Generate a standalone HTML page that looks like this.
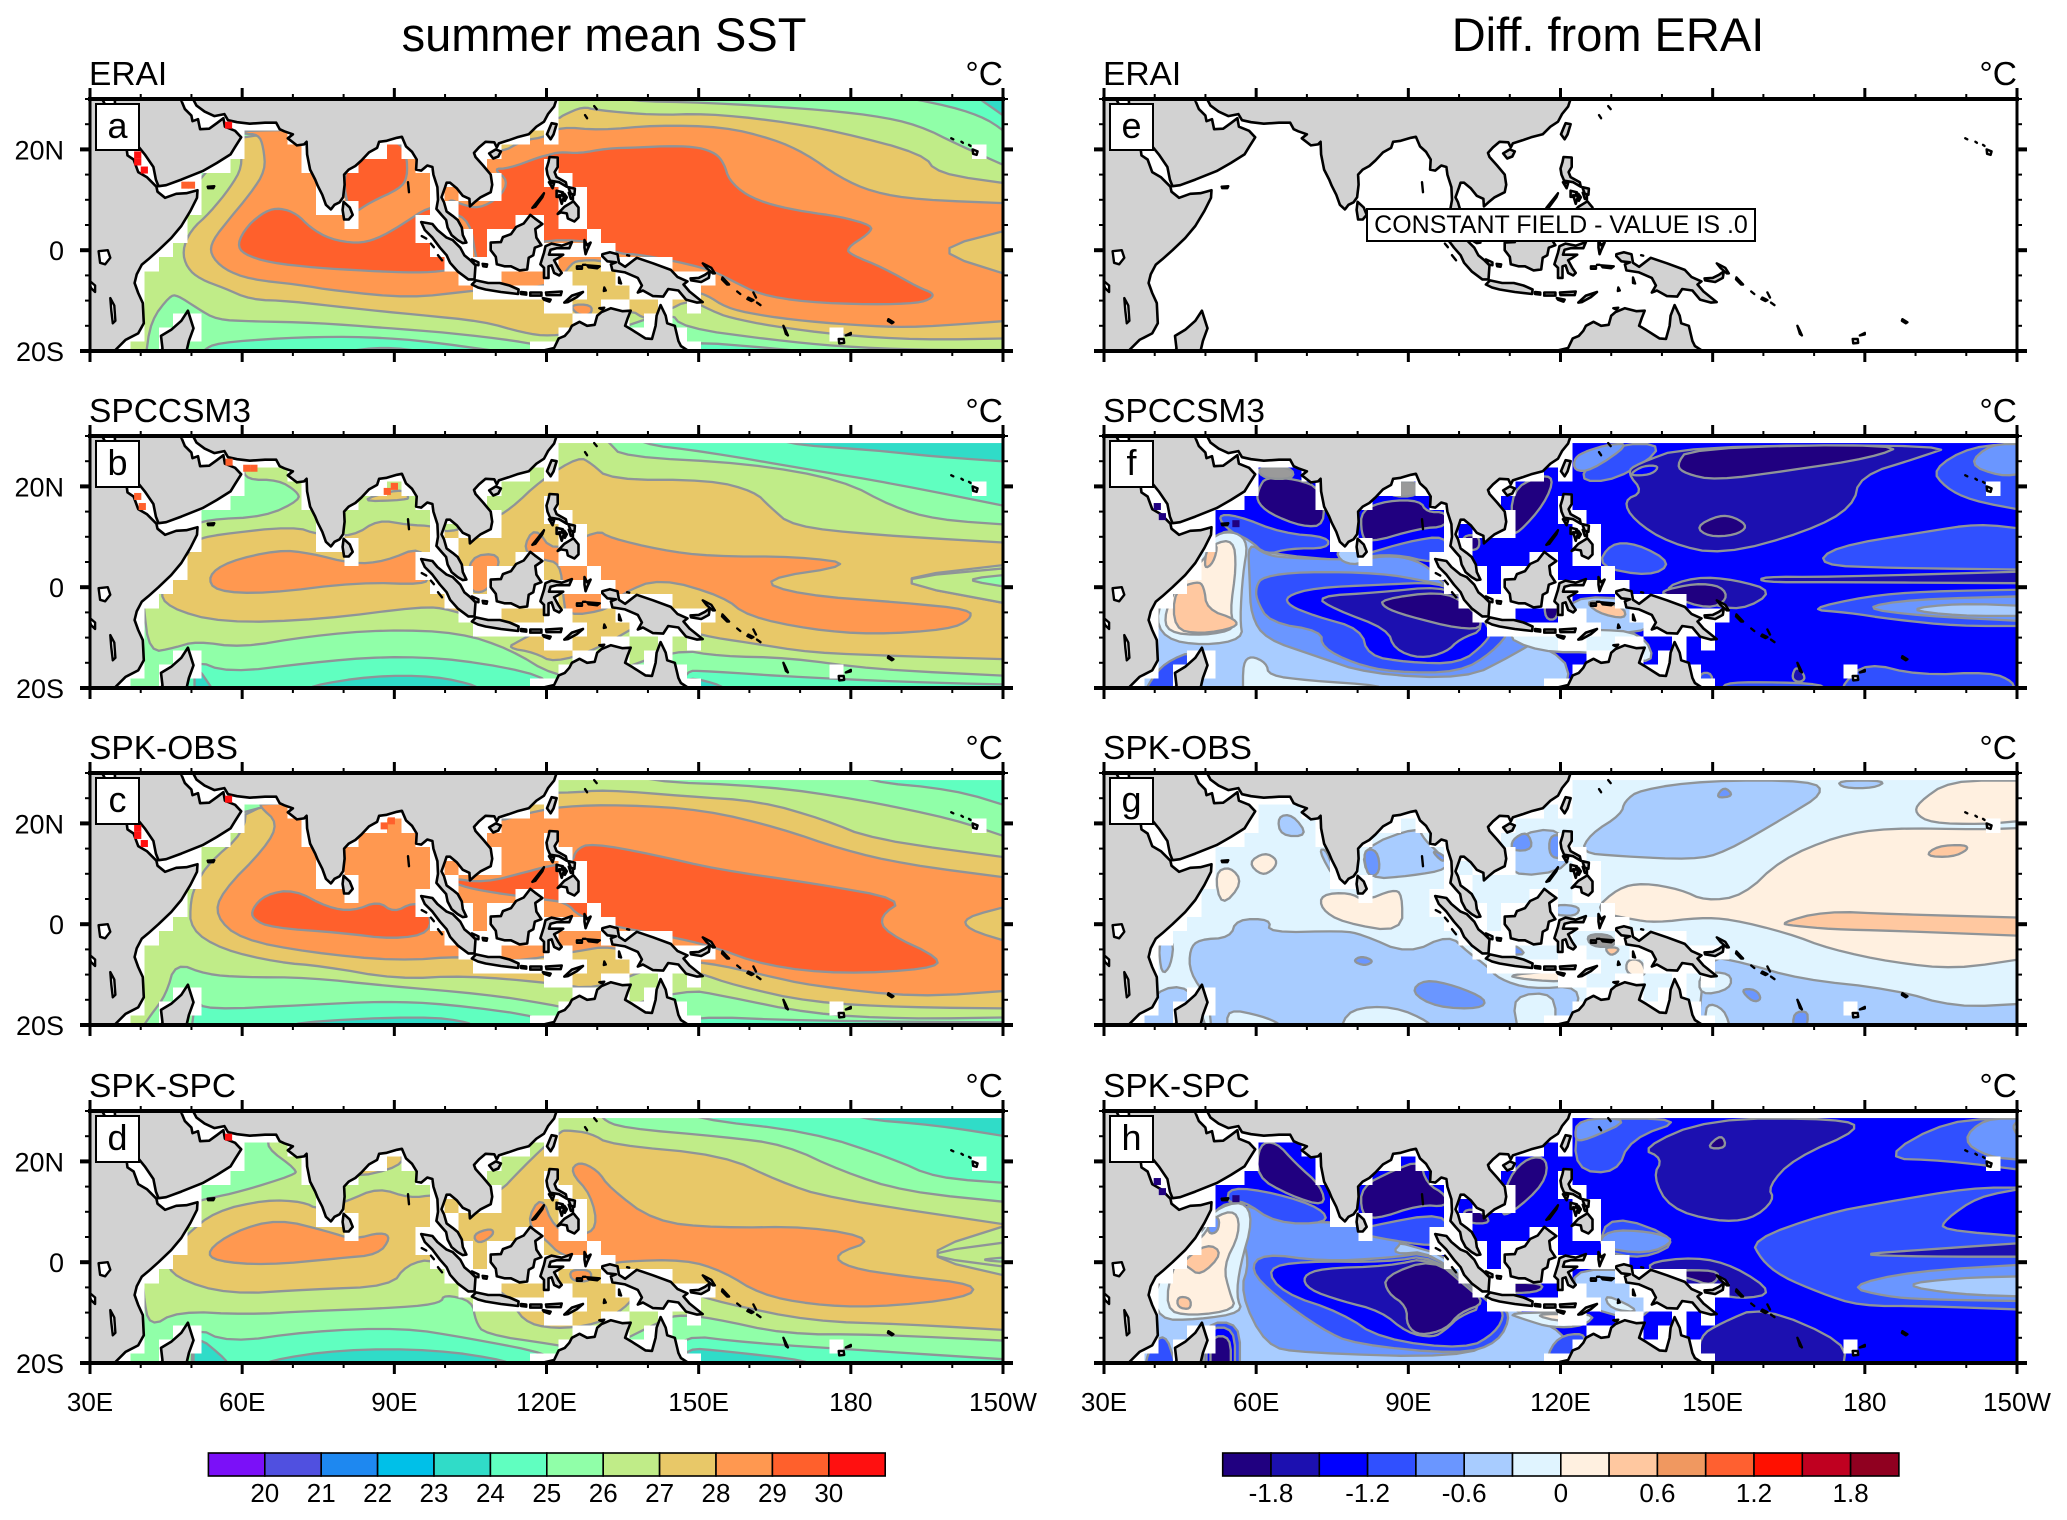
<!DOCTYPE html>
<html lang="en">
<head>
<meta charset="utf-8">
<title>Summer mean SST and difference from ERAI</title>
<style>
html,body{margin:0;padding:0;background:#fff;}
svg{display:block;}
text{font-family:"Liberation Sans",sans-serif;fill:#000;}
</style>
</head>
<body>
<svg id="chart" xmlns="http://www.w3.org/2000/svg" width="2067" height="1520" viewBox="0 0 2067 1520">
<rect x="0" y="0" width="2067" height="1520" fill="#fff"/>
<text x="604" y="51" font-size="47" text-anchor="middle">summer mean SST</text>
<text x="1608" y="51" font-size="47" text-anchor="middle">Diff. from ERAI</text>
</svg>
<script>
// ---------- legend data ----------
const sstLevels = [20,21,22,23,24,25,26,27,28,29,30];
const sstColors = ['#7b10f8','#5050e0','#1e88f0','#00c0e8','#30dcc8','#60ffc0','#90ffa8','#c0ec88','#e8c868','#ff9850','#ff602c','#ff1010'];
const sstLabels = ['20','21','22','23','24','25','26','27','28','29','30'];
const diffLevels = [-1.8,-1.5,-1.2,-0.9,-0.6,-0.3,0,0.3,0.6,0.9,1.2,1.5,1.8];
const diffColors = ['#200080','#1c10b0','#0000ff','#3050ff','#6a96ff','#a8ccff','#e0f4ff','#fff0e0','#ffc8a0','#f09860','#ff6030','#ff1000','#c00020','#900020'];
const diffLabels = ['-1.8','','-1.2','','-0.6','','0','','0.6','','1.2','','1.8'];

// ---------- axis data ----------
const lonMajor = [30,60,90,120,150,180,210];
const lonLabels = ['30E','60E','90E','120E','150E','180','150W'];
const latMajor = [20,0,-20];
const latLabels = ['20N','0','20S'];

// ---------- coastline data (lon, lat pairs) ----------
const coastAfrica = [29,31, 32.3,31, 32.5,29.8, 33.5,27.8, 34.8,25.5, 35.6,23.9, 37.1,21, 37.4,18.8, 38.6,18, 39.5,15.5, 41.2,14.5, 43.1,12.6, 43.3,11.6, 44.8,10.4, 47,11.2, 49,11.3, 51.2,11.9, 51.1,10.4, 49.8,7.8, 48,4.8, 46,2.4, 43.5,0, 41.5,-1.8, 40.2,-2.9, 39.2,-4.8, 38.8,-6.5, 39.5,-8.5, 40.4,-10.5, 40.6,-14.5, 39.5,-16.5, 37,-17.8, 35,-19.8, 34.8,-21, 29,-21];
const coastAsia = [34.9,31, 34.9,29.5, 35,28, 37,25, 38.8,22, 39.2,21, 40.8,19, 42.5,16.5, 43,14, 43.5,12.7, 45,12.9, 48,14, 52.2,15.7, 55,17.3, 57.7,19, 58.6,20.5, 59.8,22.4, 58.6,23.7, 56.6,24.5, 56.3,26.2, 55,25.2, 53.5,24.1, 51.7,24, 51.3,26, 50.2,25.6, 50,26.7, 48.7,28, 48,29.7, 49,30.4, 50.3,30, 51,28.7, 52.6,27.5, 54.5,26.6, 56.5,27, 57.2,25.8, 59,25.4, 61.5,25.1, 64.5,25.3, 66.7,25.3, 67.4,24, 68.3,23.6, 70,23, 69,22.2, 70.8,20.8, 72.2,21, 72.7,21.5, 72.8,19, 73.4,16, 74.4,14, 74.9,12.8, 75.8,11, 76.5,9, 77.5,8.1, 78.2,9, 79.2,9.5, 79.9,10.5, 80.2,13, 80.1,15, 81,16, 82.3,16.7, 83.5,17.8, 85,19.4, 86.6,20.3, 87,21.5, 88.5,21.7, 90.5,22.3, 91.5,22.5, 92.3,20.6, 93.5,19.5, 94.4,18, 94.3,16, 95.3,15.8, 96.5,16.8, 97.5,16.5, 97.7,15, 98.5,12.5, 98.6,10, 98.3,8.2, 99.3,7, 100.2,6, 100.5,4.5, 101.3,3, 102.5,2, 103.5,1.4, 104.2,1.5, 103.5,3, 103.3,4.5, 102.5,6, 101.5,6.8, 100.3,7.7, 99.8,9.5, 99.3,10.5, 100,12.5, 100.3,13.4, 101,13.4, 102.3,12.3, 103.5,10.8, 104.8,10.2, 104.9,8.7, 105.8,9.5, 107,10.5, 109,11.5, 109.3,13, 109,15, 107.5,16.8, 106,18.5, 105.7,19.3, 106.7,20.4, 108,21.5, 109.7,21.4, 110.2,20.4, 110.6,21.2, 112.5,21.8, 114.2,22.4, 116.5,23, 118,24.5, 119.5,25.5, 120.3,27, 121.5,28.5, 122,30, 122.5,31];
const coastAustralia = [118,-21, 119,-20, 121.5,-19.4, 122.4,-17.5, 123.6,-17, 124.5,-16, 125,-15, 126.5,-14.2, 128,-15, 129.5,-14.8, 130,-13, 130.8,-12.3, 132.7,-11.5, 135,-12.1, 136.6,-12, 136,-13.5, 135.5,-15, 137,-15.9, 139.5,-17.5, 140.8,-17.6, 141.5,-15, 141.7,-13, 142.5,-10.9, 143.5,-13, 143.8,-14.5, 145.3,-15, 146,-18, 146.5,-19, 148,-20, 149,-21];
const coastMadagascar = [49.3,-12, 50.4,-15.5, 49.5,-18, 48.8,-21, 43.5,-21, 44.3,-19.5, 44,-17, 46,-15.8, 48,-14];
const coastSriLanka = [80,9.6, 81.2,8.5, 81.8,7, 81,6.1, 80.1,6.1, 79.8,8];
const coastHainan = [108.7,19.2, 110,20, 111,19.6, 110.5,18.6, 109.5,18.2];
const coastTaiwan = [121,25.2, 122,25, 121.4,23, 120.8,22, 120.1,23, 120.7,24.5];
const coastLuzon = [120.6,18.5, 122.2,18.4, 122.2,16.5, 121.6,15.5, 122,14.5, 123.8,13.5, 124,12.6, 122.5,13.5, 120.7,13.8, 120.2,15, 120,16.2, 120.4,17.5];
const coastMindoro = [120.5,13.5, 121.5,13.3, 121.2,12.3];
const coastSamar = [124.3,12.5, 125.6,12.2, 125.5,11, 124.8,11.2];
const coastLeyte = [124.4,11.4, 125.2,11, 125.2,10.1, 124.8,10.2];
const coastPanay = [122,11.8, 123.2,11.5, 122.9,10.6, 122,10.6];
const coastNegros = [122.5,10.9, 123.5,10.8, 123,9.2];
const coastCebu = [123.5,11.2, 124,10.5, 123.6,9.8];
const coastMindanao = [122.2,7.2, 123.5,8.6, 125.3,9.7, 126.3,8.5, 126.3,6.5, 125.5,5.7, 124.2,6.3, 124,7.3, 122.8,7.5];
const coastBorneo = [109,1.5, 111,1.6, 111.4,2.6, 113,3.2, 114,4.6, 115.5,5.3, 116.8,7, 117.7,6.3, 119.2,5.2, 117.8,4.2, 118,2.5, 119,1, 117.7,0.5, 117.4,-1, 116.5,-1.5, 116.2,-3.8, 114.7,-4, 113,-3.2, 111.7,-3.2, 110.2,-2.8, 110,-1.3, 109,0];
const coastSumatra = [95.3,5.6, 97.5,5.2, 98.5,4, 100.3,2.5, 101.5,2, 103,0.5, 103.8,-1, 105,-2, 106,-3, 105.8,-5.8, 104.6,-5.8, 102.5,-4.2, 101,-2.5, 100.3,-1, 99,0.5, 97.5,2.5, 96,4];
const coastJava = [105.3,-6.8, 106.1,-6, 108.5,-6.5, 110.8,-6.5, 112.7,-7, 114.5,-7.8, 114.4,-8.7, 111,-8.3, 108,-7.8, 106.5,-7.4];
const coastBali = [115,-8.3, 116,-8.4, 116,-8.8, 115,-8.7];
const coastSumbawa = [116.8,-8.4, 119,-8.4, 119,-9, 116.8,-9];
const coastFlores = [119.9,-8.4, 123,-8.2, 122.8,-8.9, 120,-8.9];
const coastSumba = [119.3,-9.5, 120.8,-9.8, 120.6,-10.2, 119.5,-9.8];
const coastTimor = [123.5,-10.4, 125,-9, 127.2,-8.3, 126,-9.3, 124.2,-10.3];
const coastSulawesi = [119.8,0.8, 121,1.3, 123,0.9, 125,1.6, 124.5,0.4, 122,0.4, 120.8,0.1, 120.5,-0.9, 121.7,-0.9, 123.3,-0.9, 122.2,-1.6, 121.5,-2, 122.3,-3.5, 123,-4.5, 122.5,-5, 121.5,-4.5, 121,-3, 120.4,-3.2, 120.4,-5.5, 119.5,-5.5, 119.5,-3.5, 118.8,-2.8, 119.5,-0.5];
const coastHalmahera = [127.5,2, 128,1, 128.7,1.5, 128,0, 127.7,-0.8, 127.5,0.5];
const coastGuinea = [131,-0.8, 132.5,-0.4, 134,-0.8, 134.3,-2.5, 135.5,-3.3, 137.8,-1.5, 141,-2.6, 144.5,-3.9, 145.8,-5.3, 147.8,-6.2, 147,-6.8, 148.2,-8.2, 150.8,-10.3, 149.7,-10.4, 147.5,-9.8, 146,-8, 144,-7.7, 143,-9.2, 141,-9.1, 139,-8, 138,-8.4, 138.8,-7, 138,-5.5, 135.5,-4.4, 133,-4, 132.7,-2.8, 133.7,-2.4, 132,-2.2, 131,-1.2];
const coastNewBritain = [148.4,-5.6, 150,-5.5, 151.2,-4.9, 152.2,-4.2, 152,-5.5, 150.5,-6.3, 148.5,-6];
const masked = [coastAfrica,coastAsia,coastAustralia,coastMadagascar,coastSriLanka,coastHainan,coastTaiwan,coastLuzon,coastMindoro,coastSamar,coastLeyte,coastPanay,coastNegros,coastCebu,coastMindanao,coastBorneo,coastSumatra,coastJava,coastBali,coastSumbawa,coastFlores,coastSumba,coastTimor,coastSulawesi,coastHalmahera,coastGuinea,coastNewBritain];
const isles = [
 [117.2,8.4, 119.5,11.3, 119.2,10.5, 117.8,8.6],
 [150.8,-2.6, 152.5,-3.5, 153.2,-4.6, 152.8,-4.6, 151.5,-3.5],
 [154.7,-5.4, 156,-6.8, 155.6,-6.8, 154.6,-5.8],
 [157.6,-8.2, 158.2,-8.7],
 [159.8,-9.4, 160.8,-9.9, 160.4,-10.1, 159.6,-9.7],
 [161.5,-10.4, 162.2,-10.9],
 [160.8,-8.4, 161.3,-9.4],
 [166.7,-15, 167.2,-16, 167.6,-16.9, 167.2,-16.6],
 [177.6,-17.6, 178.6,-17.6, 178.7,-18.4, 177.7,-18.5],
 [179,-16.9, 180,-16.4, 180,-16.7],
 [187.4,-13.7, 188.4,-14.3, 188.1,-14.5, 187.3,-14],
 [199.8,22.2, 200.2,22],
 [201.8,21.5, 202.1,21.3],
 [203.3,20.9, 203.6,20.7],
 [204,20, 205,19.6, 204.8,18.9, 204.1,19.1],
 [129.4,28.6, 129.9,28],
 [127.6,26.8, 128,26.2],
 [53.2,12.6, 54.5,12.7, 54.3,12.3, 53.3,12.3],
 [92.7,13.5, 92.9,11.5],
 [95.4,2.8, 96.3,2.3],
 [97.2,1.3, 97.8,0.6],
 [98.6,-1, 99.4,-2],
 [105.3,-1.8, 106.6,-2.4, 106.6,-3, 105.8,-2.8],
 [107.4,-2.7, 108.3,-2.8, 108.2,-3.3, 107.5,-3.2],
 [126,-3.2, 127,-3.2, 127,-3.7, 126,-3.7],
 [128,-3, 130.5,-3.2, 130,-3.6, 128.3,-3.4],
 [134.3,-5.4, 134.7,-6.6, 134.3,-6.5],
 [131.4,-7.4, 131.7,-8, 131.3,-8.1],
 [130.4,-11.5, 131.4,-11.4, 131,-11.8],
 [135.9,-1, 136.3,-1.1],
 [127.2,-2.9, 127.7,-2.9]
];
const lakes = [
 [31.7,-0.2, 33.5,0, 34,-1.5, 33,-2.8, 32,-2.5],
 [34,-9.5, 34.8,-11, 35,-14, 34.5,-14.5, 34.2,-12],
 [29.8,-6, 31,-7, 31,-8.3, 30.2,-7.5]
];
const maskIslands = [178.2,-18, 204.4,19.6, 115.3,-8.4, 118.1,-8.4, 120.9,-8.4, 123.8,-8.4, 126,-8.4, 125,-11, 121,-11, 128,0, 128,2.8, 121,0, 123.8,0, 121,-2.8, 120.4,-5.6, 123,-5.6, 120.4,13, 123,11, 125.7,11, 123,8.4, 125.7,8.4, 125.7,5.6, 152,-5.6, 149,-5.6];

// ---------- contour fields: [band value, [lon,lat,...]] painted in order ----------
const fieldA = [
 [24.5,[52.4,-19.8, 55,-18.4, 68.2,-17.4, 81.3,-17.1, 94.4,-17.8, 110.1,-20, 110,-21, 52,-21]],
 [23.5,[81,-20, 88,-19.2, 95,-20, 95,-21, 81,-21]],
 [24.5,[147,-18, 165,-19.5, 170,-20, 170,-21, 147,-21]],
 [24.5,[187,31, 200,28.5, 207,26, 211,23, 211,31]],
 [23.5,[204,31, 209,27.5, 211,26, 211,31]],
 [26.5,[45.7,-9.1, 47.2,-8.9, 51.1,-11.5, 55,-13.8, 61.6,-14.1, 74.7,-14.4, 87.8,-15.4, 101,-16.4, 114.1,-18, 121.3,-19.4, 130,-17, 144.3,-12.1, 146.9,-15.4, 164.6,-17.8, 177.7,-19.1, 193.4,-19.8, 211,-19.8, 211,16.5, 201,21, 193.4,24.8, 184.3,26.8, 171.1,28.1, 151.5,29.3, 135.7,29.6, 135,31, 122,31, 100,28, 60,24, 50,12, 40,0, 36,-10, 34,-21, 41,-21, 42,-14]],
 [27.5,[59.6,21.2, 60,16.5, 57.7,12.5, 53.7,7.5, 49.8,3.9, 48.2,-0.1, 49.1,-3.5, 51.8,-5.8, 56.4,-7.5, 61.6,-9.8, 69.5,-10.1, 81.3,-11.5, 94.4,-12.8, 107.5,-14.1, 115.4,-16.4, 120.7,-17.1, 128,-16, 136,-11.5, 140,-14, 142.5,-12, 143.6,-12.1, 148.2,-9.8, 152.8,-12.1, 156.1,-13.4, 164.6,-15.1, 177.7,-16.8, 193.4,-17.8, 211,-17.5, 211,13.2, 197,15.2, 194.3,19.1, 177.7,23.5, 164.6,25.8, 151.5,27.1, 141,26.8, 129.8,27.8, 127.2,28.5, 123.3,26.8, 122.3,26, 100,24, 60,23]],
 [28.5,[59.6,23.8, 60,23.1, 63.2,23, 64.2,20.5, 64.6,15.8, 61.6,11.2, 57.7,6.5, 54.1,1.9, 53.7,-0.8, 56.4,-3.8, 61.6,-5.8, 70.8,-6.8, 78.7,-8.1, 93.1,-9.5, 104.9,-8.1, 112,-7.5, 122,-7, 124.9,-2.5, 127,-2, 131,-2, 140,-5, 148.2,-8.1, 151.5,-8.8, 155.4,-11.4, 161.4,-12.8, 171.1,-14.1, 184.3,-15.1, 193.4,-15.3, 211,-14, 211,-4.9, 195.6,0, 211,4, 211,9.3, 193.4,10, 184.3,11.5, 177.7,14.5, 171.1,19.2, 164.6,22.1, 154.8,24.5, 141.6,24.8, 130.5,23.8, 122.6,24.5, 120,22.5, 115.4,21.8, 110.8,19.2, 108,22, 90,24]],
 [28.5,[124.6,-10.8, 128.9,-10.8, 128.9,-12.8, 126,-12.8]],
 [29.5,[59,1.2, 61,4.85, 64.6,7.8, 67.5,8.4, 70.8,7.2, 73.4,4.5, 77.3,2.2, 82.6,1.3, 86.5,2.2, 91.1,4.8, 97,8.8, 100,8, 104,-3, 100.3,-4.1, 94.4,-4.5, 84.6,-4.1, 74.7,-3.5, 65.5,-2.5, 60.3,-0.8]],
 [29.5,[81.9,7.2, 85.2,9.5, 91.1,12.2, 92.6,14.5, 92.4,19.2, 90.5,21.8, 84.6,21, 79.9,15.8, 80.6,9.2]],
 [29.5,[109.5,16.2, 112.5,16.2, 118.7,18.5, 120,18.8, 122.6,19.5, 126.6,19.2, 131.8,20.2, 138.4,20.4, 144.9,20.7, 150.1,20.4, 153.4,19.2, 155,17.2, 156,13.9, 159.4,10.9, 164.6,8.9, 171.1,7.6, 177.7,6.7, 184.3,4.9, 183.6,3.3, 179,0.3, 180.3,-1, 186.2,-3.4, 193.4,-7.4, 196.2,-8.5, 196,-9.5, 193.4,-10.5, 184.3,-10.8, 171.1,-10.3, 162,-8.8, 156.7,-6.1, 151.5,-3.5, 138.4,-0.8, 134.4,-0.8, 128.9,1.9, 118,2, 112,-2, 109,-5, 107,-4.8, 106.1,-1.5, 104.9,5.8, 100.7,7.8, 100.7,10.2, 103,9.2, 106.6,8.2, 110.8,10.5, 112.5,13.8]]
];
const fieldB = [
 [24.5,[50.4,-14.3, 57.2,-17, 73.2,-15, 88.1,-13.7, 102.9,-14.3, 120.2,-17.6, 120,-21, 48,-21]],
 [24.5,[147.4,-16.6, 151,-16.6, 172,-18, 196.8,-19, 211,-19.3, 211,-21, 147,-21]],
 [24.5,[138.1,28.5, 151.1,26.9, 172.1,23.3, 188.1,20.6, 211,16, 211,31, 138,31]],
 [23.5,[165.9,28.5, 184.4,27.2, 196.8,25.9, 211,24.9, 211,31, 166,31]],
 [23.5,[73.2,-19.6, 85.5,-17.6, 98,-17.6, 106.6,-19.6, 106.6,-21, 73,-21]],
 [23.5,[50.6,-15, 54,-20, 54,-21, 50.6,-21]],
 [23.5,[147.4,-17.6, 155,-19.6, 155,-21, 147.4,-21]],
 [26.5,[132.5,28.5, 135,25.9, 159.7,24.6, 178.3,21.3, 188.1,16, 196.8,13.4, 211,12.4, 211,-17.6, 184.4,-16.3, 167.8,-14, 154.2,-13.7, 145.5,-12.3, 130,-18, 121.4,-17.6, 112.8,-12.3, 102.9,-9, 88.1,-8.4, 73.2,-9.7, 59.7,-12, 51,-10.7, 46.7,-12, 41.7,-13, 40.5,-3.1, 40,5, 50.4,12, 52.9,13.4, 64.6,14, 71.4,17.3, 70.8,19, 67.1,21.3, 60.9,21.3, 60,24, 70,25, 100,25, 115,27, 125,31, 130,31]],
 [27.5,[51,9.4, 54.7,10.4, 70.2,12.1, 75.1,10.4, 81.9,10.1, 86.8,13.4, 92.4,12.4, 98,12.1, 100.4,10.7, 109,13.4, 112.8,15.4, 119,21.3, 126.4,25.9, 128.8,24.6, 132.5,21.3, 152.3,21.3, 161,19, 164,16, 168.4,12.1, 184.4,10.4, 211,8.8, 211,4.5, 185.7,1.5, 211,-3.3, 211,-14.3, 190.6,-13.7, 172.1,-13, 159.7,-11, 151,-9.7, 140,-6.4, 130,-12.3, 121.4,-15, 117.7,-13, 112.2,-12, 114.6,-10.7, 117.7,-9, 110,-7.5, 101,-4.4, 95.5,-3.8, 75.7,-6.4, 56,-7.1, 45.4,-4.1, 43.6,-0.5, 47.9,4.8, 50.4,8.1]],
 [27.5,[82.5,17, 91.2,19.6, 92.9,18, 92.4,17.3]],
 [26.5,[185.7,1.5, 211,3.8, 211,-3.3]],
 [25.5,[201.8,1.5, 211,2.5, 211,0]],
 [28.5,[53.2,2.2, 57.2,5.1, 67.1,7.4, 73.2,6.8, 81.9,4.6, 88.1,5.1, 95.5,8.2, 96.7,2.2, 96,0.5, 83.1,1, 64.6,-1.3, 54.7,-0.8]],
 [28.5,[115.2,7.4, 117.7,12.1, 121.4,6.8, 130.1,11.4, 132.5,9.8, 142.4,7.4, 152.3,6.1, 169.6,6.1, 181.3,4.5, 161.6,1.5, 169.6,-1.5, 190.6,-3.1, 203.6,-4.4, 203.6,-6.4, 199.3,-8.4, 184.4,-9.4, 172.1,-8.4, 159.7,-5.8, 154.8,-1.8, 142.4,1.8, 135,-1.1, 132.5,-4.4, 123.9,-5.8, 123.3,-1.8, 122.7,4.8, 119,5.5]],
 [28.5,[104.7,6.1, 110.9,6.8, 110,2, 107.8,-1.1, 104.7,-0.8]]
];
const fieldC = [
 [24.5,[50.8,-15, 53,-17, 73,-16, 88,-15.3, 100,-15.8, 120.2,-18.5, 120,-21, 50,-21]],
 [24.5,[147.4,-18.2, 172,-19.2, 211,-19.5, 211,-21, 147,-21]],
 [24.5,[182.6,28.4, 200.4,26.7, 211,23.4, 211,31, 182,31]],
 [23.5,[69.5,-19.5, 95.5,-18.2, 105.4,-19.5, 105.4,-21, 69.5,-21]],
 [26.5,[138.7,28.4, 163.4,27.4, 181.9,24.7, 200.4,20.8, 211,17.2, 211,-18.5, 190.6,-18.8, 172.1,-17.8, 154.8,-14.2, 147.4,-12.9, 130,-18, 120.2,-15.8, 107.8,-13.9, 88.1,-12.2, 73.2,-10.6, 60,-10.5, 53,-10, 46.8,-7.6, 45,-14, 42,-18, 40,-21, 35,-21, 35,-10, 40,3, 50,14, 60,24, 100,27, 122,31, 138,31]],
 [27.5,[60.9,24, 60.3,18.1, 53.5,12.2, 51,8.2, 49.8,4.6, 49.8,-1, 55.9,-5, 67.1,-7.6, 75.7,-8.3, 90.5,-10.9, 104.1,-10.2, 120.2,-11.6, 130,-13, 142,-8, 149.8,-9.6, 157.3,-12.2, 172.1,-15.5, 190.6,-16.5, 211,-16.7, 211,13.2, 184.4,16.8, 174.6,20.8, 162.2,24.4, 147.4,25.4, 131.3,26.7, 124.5,26, 100,26]],
 [28.5,[63.4,23.4, 67.1,20.1, 64.6,15.2, 55.9,6.3, 54.7,1.6, 59.7,-3, 73.2,-5.6, 90.5,-7.3, 104.1,-6.3, 112.8,-7.6, 126.4,-5.3, 132.5,-4.3, 141.2,-6.9, 151.7,-7.6, 163.4,-10.2, 172.1,-12.2, 193.1,-14.5, 211,-13.2, 211,-3.5, 203,-1, 202.3,1.3, 211,3.6, 211,9.2, 190.6,11.9, 178.3,14.8, 165.9,19.1, 151.1,22.7, 135,23.7, 123.3,23.4, 116.5,22.1, 109,20, 90,24, 64,24]],
 [29.5,[61.9,3, 64.6,5.9, 70.2,6.9, 76.9,3.3, 81.9,2.6, 86.8,4.6, 89.9,2.3, 93.6,4.3, 96.7,3.3, 97.3,-1.7, 89.9,-3, 79.4,-1.7, 65.8,-0.7, 62.1,1]],
 [29.5,[125.8,14.8, 128.8,16.1, 141.2,13.8, 153.5,10.9, 172.1,8.2, 190.6,4.9, 185.7,1.6, 186.9,-1.7, 198,-6.9, 195.6,-8.9, 178.3,-9.9, 163.4,-8.3, 152.3,-4.3, 143.7,-2.3, 132.5,-0.3, 126.4,1.6, 123.9,4.3, 119,5, 109.1,6.3, 102.9,7.6, 100.4,9.2, 107.8,8.2, 116.5,10.5, 120.2,11.5, 125.1,12.2]]
];
const fieldD = [
 [24.5,[148.6,28.5, 172.1,25.9, 188.1,20.6, 196.8,16.7, 211,15.7, 211,31, 148,31]],
 [23.5,[180.7,28.5, 196.8,27.2, 211,24.9, 211,31, 180,31]],
 [24.5,[50.4,-12.7, 57.2,-16, 73.2,-13.7, 91.8,-13, 104.1,-15, 121.4,-18.3, 121,-21, 50,-21]],
 [24.5,[146.1,-14.3, 159.7,-16, 184.4,-17.6, 211,-19.3, 211,-21, 146,-21]],
 [23.5,[64.6,-19.6, 79.4,-17.3, 98,-17.3, 112.8,-19.6, 112.8,-21, 64.6,-21]],
 [23.5,[50.4,-14, 57.2,-19.6, 57.2,-21, 50.4,-21]],
 [23.5,[147.4,-17, 154.8,-17.6, 172.1,-19.6, 172,-21, 147.4,-21]],
 [26.5,[130.7,28.5, 135,26.6, 154.8,24.9, 167.1,23.3, 178.3,18, 190.6,14, 211,11.9, 211,-15.6, 184.4,-14.3, 167.1,-14.3, 152.3,-11, 145.5,-10.4, 142,-12, 130,-18, 121.4,-16.3, 107.8,-14.3, 106,-11.7, 105.4,-7.7, 99.8,-6.4, 99.2,-8.1, 91.8,-9, 73.2,-9.7, 60.9,-10.4, 47.3,-9.7, 41.7,-13, 40.5,-6.4, 40,5, 51,12, 53.5,12.7, 59.7,14, 70.2,17.3, 70.8,18.3, 64.6,22.9, 66,25, 100,27, 122,31, 130.7,31]],
 [27.5,[123.9,26.2, 128.8,25.6, 132.5,23.3, 154.8,21.3, 165.9,16, 175.8,12.7, 211,7.4, 192.5,1.5, 211,-2.8, 211,-13.5, 190.6,-12.3, 172.1,-11.7, 154.8,-8.1, 147.4,-5.8, 137.5,-6.4, 135.6,-9, 130.1,-12.3, 121.4,-13.3, 115.2,-11.7, 112.8,-6.4, 98,0.8, 92.4,-0.5, 89.3,-4.8, 73.2,-5.4, 57.2,-6.4, 46.7,-3.1, 44.8,0.8, 49.1,5.5, 54.7,10.1, 64.6,12.4, 72,12, 75.1,10.4, 80.7,12.1, 86.8,14.8, 93,12.7, 98,13.4, 105,13, 110.3,13.4, 115.2,18.7, 122.7,25.9]],
 [27.5,[81,16.5, 91.5,19, 91.5,22, 86.5,22]],
 [26.5,[192.5,1.5, 211,4, 211,-1]],
 [25.5,[205,0.5, 211,1, 211,0]],
 [28.5,[53,2.2, 58.4,6.1, 67.1,8.6, 76.9,6.1, 81.9,4.5, 87.5,6, 89.3,4.8, 86.8,1.5, 79.4,0.8, 64.6,-0.6, 54.7,0.2]],
 [28.5,[105.4,5.5, 109.1,6.8, 109.7,5.5, 106.6,3.5]],
 [28.5,[124.5,-1.5, 128.8,-1.5, 128.8,-3.8, 125,-3.8]],
 [28.5,[124.6,18, 126.4,20, 130,18.3, 132.5,14.7, 141.2,8.1, 153.5,6.8, 172.1,7.1, 185.1,4.5, 176.4,1.5, 179.5,-1.1, 190.6,-2.8, 204.8,-4.4, 203,-7.1, 184.4,-9, 172.1,-8.4, 162.2,-6.4, 154.8,-1.8, 147.4,0.5, 135,0.2, 130.1,-0.8, 122.7,1.5, 120.2,4.1, 115.9,7.8, 119,13.4, 121.4,6.8, 126.4,5.1, 130.1,6.8, 128.8,13.4]]
];
const fieldF = [
 [-0.45,[52.2,10.7, 56.1,11.3, 60.6,8.7, 61.9,6.4, 94.9,4.1, 106.6,-7.7, 122.1,-14.2, 120.8,-21, 36.7,-21, 40.6,-5.1, 47.1,2.8]],
 [-0.15,[57.4,-21, 57.4,-15, 59,-13.6, 62,-15, 62.5,-17.5, 70,-18.5, 85,-19.5, 85,-21]],
 [-1.05,[39,-18.8, 42,-14.9, 48.4,-12.3, 45,-21, 38,-21]],
 [-0.75,[61.9,6.4, 66.5,5.8, 79.4,5.4, 87.2,6.4, 93,4.8, 96.2,1.5, 105.3,-7.7, 118,-9, 110.4,-13.6, 101.4,-18.2, 82,-17.2, 71.6,-13.6, 61.9,-10.3, 59,-5.7, 58.7,1.5, 58.4,9]],
 [-1.05,[60,0.2, 61.3,2.1, 69.1,3.1, 84.6,2.8, 93.6,1.2, 97.5,0.2, 105.3,-7.7, 110.4,-8.3, 106.6,-12.9, 100.1,-16.9, 87.2,-16.9, 79.4,-15.2, 72.9,-11.9, 72.9,-8.7, 62.6,-7, 60,-2.4]],
 [-1.35,[65.8,-1.8, 71.6,-0.1, 84.6,0.5, 96.2,1, 100.1,-1.8, 106.6,-8.3, 105.3,-11, 100.1,-15.2, 89.7,-14.9, 82,-13.6, 80.7,-8.3, 71.6,-5.7, 66.5,-3.7]],
 [-1.65,[71.6,-1.8, 84.6,-1, 96.2,0.2, 101.4,-2.4, 105.3,-8.3, 100.1,-10.3, 97.5,-12.9, 92.3,-14.2, 87.2,-12.3, 85.9,-8.3, 75.5,-4.4]],
 [-1.95,[84.6,-2.4, 96.2,-0.8, 101.4,-3.1, 105.3,-8, 100.1,-8.3, 89.7,-5.7, 85.2,-4]],
 [-1.05,[82,6.7, 89.7,9, 97.5,10.3, 97.5,6.1, 94.9,4.8, 87.2,6.6, 79.4,5.8]],
 [-1.95,[80.7,15.3, 85.9,17.2, 92.3,17.2, 93.6,14.9, 97.5,14.9, 97.5,12, 92.3,11.7, 82,8.7, 80.7,10.7]],
 [-0.45,[75.5,7.5, 81,7.5, 81,4.5, 77,4.8]],
 [-1.05,[56.1,14.3, 65.2,10.7, 74.2,10, 74.2,7.7, 66.5,7.7, 61.9,6.4, 58.7,9.4, 54.8,11, 52.2,14.3]],
 [-1.95,[60.6,19.8, 61.9,21.8, 67.8,21.5, 72.9,19.5, 73.6,12.3, 69.1,12, 62.6,14.6, 60,17.2]],
 [-0.15,[52.2,10.7, 56.1,11, 58.4,8.7, 57.4,2.8, 56.8,-6.4, 57.4,-10.3, 49.7,-11.6, 41.9,-10.3, 40,-5.1, 44.5,1.5, 49.7,7.4]],
 [0.15,[51.6,8.7, 55.5,9.4, 56.1,4.1, 54.8,-5.1, 56.1,-8.3, 49.7,-9.6, 42.5,-9, 41.9,-5.1, 45.1,1.5, 49.7,5.4]],
 [0.45,[43.8,-0.5, 48.4,1.2, 49.7,0.2, 50.3,-4.4, 56.1,-6.4, 56.1,-8, 49,-9.3, 43.8,-8.3]],
 [0.45,[50.3,8, 52.5,8.7, 51.6,4.8, 49.7,3.5]],
 [null,[60,23.8, 67,23.8, 67.5,21.5, 61.5,21.5]],
 [null,[86,21, 92,21, 92,18, 86,18]],
 [-0.45,[120.8,-1.8, 137,-2.4, 138.9,-9, 123.4,-9]],
 [-0.15,[107.8,-9, 126,-8.3, 136.3,-9, 138.9,-15.5, 128.5,-12.9, 115.6,-12.9]],
 [0.45,[124.7,-2.4, 132.4,-3.7, 133,-6.4, 127.2,-5.1]],
 [-1.95,[110.4,19.2, 115.6,22.1, 118.8,21.8, 116.9,16.6, 111.7,10.7, 110.4,11]],
 [-1.95,[100.7,10.3, 104,10.3, 104,7.4, 101,7.4]],
 [-1.95,[116.9,-1.8, 119.5,-1.8, 119.5,-6.4, 116.9,-6.4]],
 [-1.05,[129.8,28.4, 141.5,28.4, 131.1,21.1, 122.7,21.1]],
 [-0.75,[122.7,25.7, 125.3,27.1, 129.8,28.4, 133.7,28.4, 126,23.1, 122.7,23.1]],
 [-1.65,[132.4,17.2, 136.3,18.9, 133.1,22.8, 135,24.4, 144.7,28, 197.7,28.2, 190.6,25.7, 179,22.1, 177.7,15.9, 168.6,11, 151.8,6.4, 141.5,8.7, 134.4,13.3]],
 [-1.95,[142.8,24.1, 145.3,27.7, 188,28.4, 181.6,25.7, 164.7,23.1, 150.5,21.2, 144.7,22.5]],
 [-1.95,[146.6,12, 151.2,14.3, 154.4,13.9, 157,12, 154.4,10.3, 149.2,10]],
 [-1.35,[133.7,22.5, 136.3,24.1, 139.5,24.1, 138.2,22.5, 135,22.1]],
 [-1.05,[170.6,4.4, 173.8,8, 191.9,11, 202.3,12.6, 211,11.6, 211,3.5, 185.4,3.8]],
 [-1.05,[193.2,23.4, 201,28, 211,28.4, 211,15.3, 201,17.2, 195.8,19.8]],
 [-0.75,[200.3,24.4, 204.8,28.4, 211,28.4, 211,22.5, 206.7,22]],
 [-1.05,[168.6,-4.4, 180.3,-1.8, 191.9,-0.8, 211,-0.5, 211,-7.7, 198.4,-7.7, 185.4,-6.4, 176.4,-5]],
 [-0.75,[179,-4.1, 189.3,-2.4, 211,-1.8, 211,-6.7, 191,-5.7]],
 [-0.45,[187.7,-4.4, 198.4,-3.2, 211,-3.7, 211,-5.7, 198.4,-5.7]],
 [-1.65,[159.6,2.1, 172.5,2, 211,3.1, 211,0.8, 172.5,1, 159.6,1]],
 [-1.65,[139.5,-0.5, 146.6,2.1, 154.4,1.5, 162.2,-0.8, 155.7,-4.7, 148,-3]],
 [-1.95,[139.5,-0.8, 146.6,0.8, 151.8,0.2, 153,-2.4, 149.2,-4.4, 141.5,-1.8]],
 [-1.05,[129.8,8.7, 135,8.7, 142.1,4.8, 137.6,2.1, 127.2,4.1]],
 [-1.05,[175.7,-19.2, 180.3,-14.9, 190.6,-17.5, 204.8,-16.8, 209.4,-18.8, 209.4,-21, 175.7,-21]],
 [-1.05,[147.3,-17, 150,-17, 150,-21, 147.3,-21]],
 [-1.05,[152,-19, 160,-18.8, 172,-19.2, 172,-21, 152,-21]],
 [-1.65,[166.5,-15.5, 168.5,-18, 167,-19, 165.5,-18]]
];
const fieldG = [
 [-0.45,[132.6,24.4, 135.7,26.7, 148.6,28.5, 169.6,28.5, 172,26, 164.6,21.4, 152.3,14.2, 146.2,12.8, 131.4,13.5, 124,14.2, 125.8,17.8, 132,21.8]],
 [-0.45,[174.5,28.5, 184.4,28.5, 181.9,27, 175.7,27]],
 [-0.75,[152.3,27.4, 154.2,25.4, 150.5,25]],
 [0.15,[126.4,2.6, 131.4,7.2, 136.3,8.2, 143.7,6.9, 148.6,4.6, 156,5.6, 163.4,12.8, 174.5,17.5, 184.4,19.1, 202.9,18.8, 211,19.1, 211,-6.9, 197.9,-8.9, 185.6,-7.6, 173.3,-5, 164.6,-1.7, 153.6,1, 147.4,1.3, 138.8,0.3, 133.8,1]],
 [0.15,[190.5,24.1, 196.7,28.5, 211,28.5, 211,20.5, 202.9,19.8, 193,20.1, 189.9,22]],
 [0.45,[163.2,0.2, 172,2.6, 185.6,2, 211,1.3, 211,-2.3, 185.6,-1.3, 173.3,-1, 165.9,-0.3]],
 [0.45,[191.8,13.5, 194.2,15.5, 199.8,15.8, 200.4,14.8, 197.3,13.3]],
 [0.15,[72.8,5.9, 78.3,6.3, 81.4,4.6, 87,6.9, 88.8,6, 88.8,-1.7, 77.1,0.3, 72.8,3]],
 [0.15,[58.4,12.2, 61.7,14.3, 64.2,12.8, 63.5,10.9, 61.1,9.6]],
 [0.15,[51.8,10.2, 54.9,11.5, 57.4,8.2, 53.1,3.3]],
 [-0.45,[46.9,-5, 48.7,-3, 54.9,-2.7, 56.1,1, 62.9,1, 62.3,-1.7, 77.1,-1.3, 80.8,-2, 90,-6, 98,-2, 101.8,-5.6, 105.5,-8.3, 107.9,-10.9, 114.1,-12.9, 124,-12.2, 122.7,-18.8, 121.5,-21, 51.2,-21, 50.6,-14.9, 46.9,-9.6]],
 [-0.45,[40.7,-3, 43.8,-3, 43.2,-8.3, 41.3,-10.2]],
 [-0.45,[40.1,-13, 46.9,-12.2, 50,-19.8, 50,-21, 36.4,-21]],
 [-0.75,[90.4,-13.5, 93.1,-10.9, 99.3,-12.2, 105.5,-14.9, 104.2,-16.8, 95.6,-16.5]],
 [-0.75,[79,-7.3, 80.8,-6.3, 83.3,-7.3, 81.4,-8.3]],
 [-0.15,[76.5,-21, 78.4,-16.8, 87,-16.2, 94.4,-19.5, 94.4,-21]],
 [-0.15,[110.4,-14.2, 119,-13.5, 119,-21, 111.6,-21]],
 [-0.15,[54.3,-21, 54.3,-16.8, 61.1,-18.2, 64.8,-19.8, 64.8,-21]],
 [-0.45,[148.6,-6.3, 156,-7.6, 167.1,-10.9, 185.6,-12.9, 197.9,-16.5, 211,-15.8, 211,-21, 147,-21]],
 [-0.15,[147.4,-9.6, 153.6,-9.6, 153.6,-12.9, 147.4,-14.2]],
 [-0.15,[148.6,-15.5, 152.3,-16.8, 153.6,-21, 148.6,-21]],
 [-0.75,[155.4,-12.9, 158.5,-12.9, 159.7,-14.9, 157.9,-15.5]],
 [-0.75,[165.9,-17.5, 169,-17.2, 168.4,-21, 165.9,-21]],
 [-0.45,[80.8,15.2, 91.9,19.4, 93.1,16.8, 96.7,13.5, 98,10.9, 90.5,9.6, 82,8.9]],
 [-0.75,[81,14.8, 83.9,14.8, 84.5,10.2, 82,9.2]],
 [-0.75,[94.4,14.8, 97.4,13.5, 96.8,12.2]],
 [-0.45,[64.2,21.4, 67.2,21.8, 70.3,17.5, 64.8,17.5]],
 [-0.45,[72.2,14.8, 74,14.8, 75.9,8.2]],
 [-0.45,[110.4,17.5, 120.3,19.4, 122.7,10.9, 109.2,9.2]],
 [-0.75,[110.4,16.8, 113.5,18.5, 114.7,14.8, 110.4,14.5]],
 [-0.75,[117.8,17.5, 120.3,17.8, 120.3,12.9, 117.8,13.5]],
 [-0.75,[109.2,-3, 114.1,-6.3, 106.7,-5.6]],
 [-0.45,[119,4, 124,3.5, 123,1.5, 118,2]],
 [null,[125,-2, 130,-2, 131,-4.5, 126,-4.5]],
 [0.45,[128.5,-4.5, 132,-4.7, 130,-6.5]],
 [0.15,[109,-10, 125,-9, 122,-11.5, 113,-11]],
 [0.15,[133,-7, 136,-7, 137,-10.5, 133,-10]]
];
const fieldH = [
 [-0.45,[52.2,11, 56.1,12, 60.6,8, 61.9,5, 94.9,4.1, 106.6,-7.7, 122.1,-14.2, 120.8,-21, 36.7,-21, 40.6,-5.1, 47.1,2.8]],
 [-0.75,[57.4,12.3, 63.9,7.7, 75.5,8.1, 87.2,6.4, 89.1,4.4, 86.5,1.5, 94.9,2.2, 105.3,-8.7, 110.4,-10, 107.8,-15.3, 100.1,-18.9, 69.1,-18, 61.9,-16.6, 56.8,-6.1, 58.7,0.2, 56.8,5.8]],
 [-1.05,[58.7,-1.5, 61.3,1.8, 72.9,0.2, 85.9,0.8, 94.9,2.1, 106.6,-8.7, 110.4,-10, 107.8,-16, 100.1,-18.3, 79.4,-16.3, 72.9,-13.3, 63.9,-6.8]],
 [-1.35,[61.9,-1.2, 69.1,0.2, 85.9,0, 94.9,1.5, 106.6,-8.7, 109.1,-10, 107.2,-14, 101.4,-17.3, 84.6,-15.3, 76.8,-10, 65.2,-6.1]],
 [-1.65,[69.1,-2.8, 72.9,-1.2, 85.9,-0.8, 94.9,1.1, 105.3,-8.7, 100.1,-10.7, 97.5,-13.3, 94.9,-15, 89.7,-14, 84.6,-9.7, 76.8,-7.7, 70.3,-5.4]],
 [-1.95,[85.2,-2.8, 94.9,0.8, 101.4,-4.8, 105.3,-8.1, 100.1,-10, 97.5,-13.3, 92.3,-14.6, 89.7,-12.7, 89.7,-8.7, 85.9,-6.1]],
 [-1.05,[82,7.1, 97.5,10, 97.5,4.4, 94.9,3.1, 84,4.8, 79.4,6]],
 [-1.95,[80.7,15, 87.2,18.3, 92.3,20.2, 93.6,15.6, 97.5,13.3, 97.5,11, 92.3,11.4, 83.3,8.4, 80.7,9.7]],
 [-1.05,[54.8,15, 63.9,13.7, 72.9,10.7, 74.2,7.7, 63.9,7.7, 57.4,12.3, 54.2,11.7]],
 [-1.95,[60,17, 60.6,23.5, 63.9,23.9, 67.8,19.6, 72.9,15, 73.6,11, 66.5,13.3]],
 [-0.15,[51.6,10.4, 57.4,12.3, 59.4,8.4, 56.8,-0.8, 56.1,-6.8, 57.4,-10, 48.4,-11.4, 40.6,-11.4, 40,-4.8, 44.5,1.1, 49.7,6.4]],
 [0.15,[51.6,9, 56.1,10.4, 56.8,5.8, 53.5,-0.8, 54.8,-6.1, 56.1,-9.4, 47.1,-10.7, 41.9,-9.4, 43.8,0.5, 49.7,5.1]],
 [0.45,[45.1,-0.2, 50.3,3.8, 53.5,1.8, 49,-2.8, 46.4,-0.8]],
 [0.45,[44.5,-6.8, 47.1,-7.1, 47.1,-9.4, 44.5,-9]],
 [-0.75,[50.5,9, 52.8,9, 52.5,6, 50.5,5.5]],
 [-1.05,[49.7,-12, 56.8,-12, 56.8,-21, 49.7,-21]],
 [-1.35,[50.2,-13, 55.8,-13, 55.8,-21, 50.2,-21]],
 [-1.95,[51,-14.7, 55,-14.7, 55,-21, 51,-21]],
 [-1.05,[39,-17, 42,-14, 44,-19.7, 44,-21, 38,-21]],
 [-1.05,[117,-19.3, 119.5,-14.7, 124.7,-14, 124.7,-16.6, 119.5,-21]],
 [-0.15,[109.1,-10, 127.2,-10, 124.7,-12.7, 118.2,-13, 113,-11.4]],
 [0.15,[114,-10.3, 124.7,-10.3, 120.8,-12]],
 [-0.45,[120.8,-1.5, 136.3,-1.5, 138.9,-11.4, 126,-10]],
 [-0.15,[128.5,-6.1, 136.3,-10, 129.8,-9.4]],
 [-1.95,[109.8,17, 113.7,20.9, 117.5,20.6, 116.9,15.6, 110.4,9.7, 108,9.4]],
 [-1.95,[100.7,10.4, 104,10.4, 106.6,7.7, 101.4,7.7]],
 [-1.95,[106.6,-4.1, 116.9,-4.1, 115.6,-6.1, 106.6,-6.1]],
 [-1.05,[123.4,28.5, 145.3,28.5, 133.7,24.5, 131.1,17.6, 122.7,18.3]],
 [-0.75,[123.4,28.5, 134.4,28.5, 125,24.2, 122.7,24.2]],
 [-1.65,[135.7,22.6, 149.2,28.5, 175,28.5, 179.6,26.5, 166,20.6, 160.9,15, 162.2,12.3, 157.6,8.4, 150.5,8.1, 141.5,10.7, 138.2,17, 140.2,20.6]],
 [-1.95,[148.6,22.6, 151.8,25.5, 152.8,22.6]],
 [-1.05,[129.8,9.7, 144,4.4, 136.3,0.5, 127.2,2.5]],
 [-0.75,[129.2,6.4, 137.6,6.1, 143,4.4, 137,1.5, 127.2,3.1]],
 [-1.05,[157.6,4.4, 172.5,9.7, 182.9,11.7, 201,14.8, 211,14.8, 211,-9.4, 191.9,-8.7, 179,-8.7, 171.2,-6.1, 163.5,-2.8, 159.6,0.5]],
 [-1.35,[211,14.6, 202.3,13, 195.8,8.4, 195.1,6.4, 211,5.1]],
 [-1.65,[177.7,1.5, 191.9,2.5, 211,3.8, 211,1.1, 191.9,1.1]],
 [-0.75,[176.4,-4.8, 189.3,-1.8, 211,-0.5, 211,-7.7, 191.9,-7.4, 184.1,-6.8]],
 [-0.45,[186.7,-4.5, 198.4,-3.1, 211,-2.8, 211,-6.8, 198.4,-6.4]],
 [-1.05,[182.9,20.6, 196.4,28.3, 211,28.4, 211,18.3, 195.8,20.2]],
 [-0.75,[199.1,24.2, 203.5,28.5, 211,28.5, 211,20.3, 204.2,20.9]],
 [-0.45,[208.8,27, 211,28.5, 211,24]],
 [-1.65,[136.3,-0.2, 146.6,1.1, 154.4,-0.8, 162.2,-6.1, 155.7,-7.4, 148,-5.7, 140,-3]],
 [-1.95,[139.5,-2.1, 144.7,-1.5, 151.8,-1.8, 149.9,-4.8, 145.3,-3.1]],
 [-1.65,[159.6,-8.7, 176.4,-16, 175.7,-21, 147.3,-21, 147.3,-14.7, 151.8,-12]]
];

// ---------- spot values: [band value, lon, lat] for isolated marginal-sea cells ----------
const spotsA = [[30.5,39.4,18.9],[30.5,39.4,17.5],[30.5,40.7,15.9],[30.5,57.3,24.8],[29.5,48.7,12.9],[29.5,50,12.9]];
const spotsB = [[29.5,39.4,18],[29.5,40.3,16],[29.5,57.4,24.8],[29.5,60.9,23.6],[29.5,62.3,23.6],[29.5,90,20],[29.5,88.6,19]];
const spotsC = [[30.5,39.4,19],[30.5,39.4,17.6],[30.5,40.7,16],[30.5,57.3,24.8],[29.5,88,19.5],[29.5,89.4,20.5]];
const spotsD = [[30.5,57.3,24.8]];
const spotsF = [[-1.95,40.5,16],[-1.95,41.5,14],[-1.95,56,12.6]];
const spotsH = [[-1.95,40.5,16],[-1.95,41.5,14],[-1.95,56,12.6]];

// ---------- panel list ----------
const columnX = [90,1104];
const rowY = [99,436,773,1111];
const panelNames = ['ERAI','SPCCSM3','SPK-OBS','SPK-SPC'];
const panels = [
 {tag:'a',col:0,row:0,base:25.5,field:fieldA,spots:spotsA,levels:sstLevels,colors:sstColors,topBand:false,mask:true},
 {tag:'b',col:0,row:1,base:25.5,field:fieldB,spots:spotsB,levels:sstLevels,colors:sstColors,topBand:true,mask:true},
 {tag:'c',col:0,row:2,base:25.5,field:fieldC,spots:spotsC,levels:sstLevels,colors:sstColors,topBand:true,mask:true},
 {tag:'d',col:0,row:3,base:25.5,field:fieldD,spots:spotsD,levels:sstLevels,colors:sstColors,topBand:true,mask:true},
 {tag:'e',col:1,row:0,base:null,field:[],spots:[],levels:diffLevels,colors:diffColors,topBand:false,mask:false},
 {tag:'f',col:1,row:1,base:-1.35,field:fieldF,spots:spotsF,levels:diffLevels,colors:diffColors,topBand:true,mask:true},
 {tag:'g',col:1,row:2,base:-0.15,field:fieldG,spots:[],levels:diffLevels,colors:diffColors,topBand:true,mask:true},
 {tag:'h',col:1,row:3,base:-1.35,field:fieldH,spots:spotsH,levels:diffLevels,colors:diffColors,topBand:true,mask:true}
];

// ---------- drawing ----------
const svg = document.getElementById('chart');
const NS = 'http://www.w3.org/2000/svg';
const PW = 913, PH = 252;
const LON0 = 30, LON1 = 210, LAT0 = -20, LAT1 = 30;
const GRID_LON = 2.8125, GRID_LAT = 2.79;
const MASK_MIN_SAMPLES = 3;

function make(tag, props, parent) {
  const n = document.createElementNS(NS, tag);
  for (const k in props) n.setAttribute(k, props[k]);
  parent.appendChild(n);
  return n;
}
function axisX(ox, lon) { return ox + (lon - LON0) / (LON1 - LON0) * PW; }
function axisY(oy, lat) { return oy + (LAT1 - lat) / (LAT1 - LAT0) * PH; }
function bandColor(value, levels, colors) {
  if (value === null) return '#9a9a9a';
  let i = 0;
  while (i < levels.length && levels[i] <= value) i++;
  return colors[i];
}
function pathOf(pts, ox, oy, closed) {
  let d = '';
  for (let i = 0; i < pts.length; i += 2) {
    d += (i ? 'L' : 'M') + axisX(ox, pts[i]).toFixed(1) + ' ' + axisY(oy, pts[i + 1]).toFixed(1);
  }
  return d + (closed ? 'Z' : '');
}
// Corner-cut a contour outline so it reads as a smooth isoline; vertices outside the map stay put.
function smoothed(pts) {
  let cur = pts;
  for (let pass = 0; pass < 2; pass++) {
    const out = [];
    const n = cur.length / 2;
    for (let i = 0; i < n; i++) {
      const x = cur[2 * i], y = cur[2 * i + 1];
      if (x >= 210.5 || y >= 30 || y <= -20) { out.push(x, y); continue; }
      const a = (i + n - 1) % n, b = (i + 1) % n;
      out.push(x + (cur[2 * a] - x) * 0.25, y + (cur[2 * a + 1] - y) * 0.25);
      out.push(x + (cur[2 * b] - x) * 0.25, y + (cur[2 * b + 1] - y) * 0.25);
    }
    cur = out;
  }
  return cur;
}
function inside(poly, lon, lat) {
  let c = false;
  for (let i = 0, j = poly.length - 2; i < poly.length; j = i, i += 2) {
    const xi = poly[i], yi = poly[i + 1], xj = poly[j], yj = poly[j + 1];
    if ((yi > lat) !== (yj > lat) && lon < (xj - xi) * (lat - yi) / (yj - yi) + xi) c = !c;
  }
  return c;
}
const maskCells = [];
for (let i = Math.floor(LON0 / GRID_LON); i * GRID_LON <= LON1; i++) {
  for (let j = Math.floor(LAT0 / GRID_LAT) - 1; j * GRID_LAT <= LAT1 + GRID_LAT; j++) {
    const lon = i * GRID_LON, lat = j * GRID_LAT;
    let hits = 0;
    for (let a = -2; a <= 2; a++) {
      for (let b = -2; b <= 2; b++) {
        const sLon = lon + a * GRID_LON / 4.4, sLat = lat + b * GRID_LAT / 4.4;
        for (const poly of masked) { if (inside(poly, sLon, sLat)) { hits++; break; } }
      }
    }
    if (hits >= MASK_MIN_SAMPLES) maskCells.push([lon, lat]);
  }
}
for (let k = 0; k < maskIslands.length; k += 2) {
  maskCells.push([Math.round(maskIslands[k] / GRID_LON) * GRID_LON, Math.round(maskIslands[k + 1] / GRID_LAT) * GRID_LAT]);
}

panels.forEach(function (p) {
  const ox = columnX[p.col], oy = rowY[p.row];
  const g = make('g', {}, svg);
  
  

  const clip = make('clipPath', {id: 'clip-' + p.tag}, g);
  make('rect', {x: ox, y: oy, width: PW, height: PH}, clip);
  const map = make('g', {'clip-path': 'url(#clip-' + p.tag + ')'}, g);
  
  

  const ocean = make('rect', {x: ox, y: oy, width: PW, height: PH, fill: p.base === null ? '#fff' : bandColor(p.base, p.levels, p.colors)}, map);
  
  

  p.field.forEach(function (layer) {
    const band = make('path', {d: pathOf(smoothed(layer[1]), ox, oy, true), fill: bandColor(layer[0], p.levels, p.colors), stroke: '#8f9498', 'stroke-width': 2.3, 'stroke-linejoin': 'round'}, map);
    
    
  });

  if (p.topBand) {
    const topBand = make('rect', {x: ox, y: oy, width: PW, height: axisY(oy, 28.6) - oy, fill: '#fff'}, map);
    
    
  }

  if (p.mask) {
    let d = '';
    maskCells.forEach(function (c) {
      const x0 = axisX(ox, c[0] - GRID_LON / 2), x1 = axisX(ox, c[0] + GRID_LON / 2);
      const y0 = axisY(oy, c[1] + GRID_LAT / 2), y1 = axisY(oy, c[1] - GRID_LAT / 2);
      d += 'M' + x0.toFixed(1) + ' ' + y0.toFixed(1) + 'H' + x1.toFixed(1) + 'V' + y1.toFixed(1) + 'H' + x0.toFixed(1) + 'Z';
    });
    const maskPath = make('path', {d: d, fill: '#fff', 'shape-rendering': 'crispEdges'}, map);
    
    
  }

  masked.forEach(function (poly) {
    const land = make('path', {d: pathOf(poly, ox, oy, true), fill: '#d2d2d2', stroke: '#000', 'stroke-width': 2.6, 'stroke-linejoin': 'round'}, map);
    
    
  });
  isles.forEach(function (poly) {
    const isle = make('path', {d: pathOf(poly, ox, oy, true), fill: '#d2d2d2', stroke: '#000', 'stroke-width': 2.4, 'stroke-linejoin': 'round', 'stroke-linecap': 'round'}, map);
    
    
  });
  lakes.forEach(function (poly) {
    const lake = make('path', {d: pathOf(poly, ox, oy, true), fill: '#fff', stroke: '#000', 'stroke-width': 2.4, 'stroke-linejoin': 'round'}, map);
    
    
  });
  p.spots.forEach(function (s) {
    const spot = make('rect', {x: axisX(ox, s[1] - 0.7), y: axisY(oy, s[2] + 0.7), width: 7.2, height: 7, fill: bandColor(s[0], p.levels, p.colors)}, map);
    
    
  });

  // frame
  const frame = make('rect', {x: ox, y: oy, width: PW, height: PH, fill: 'none', stroke: '#000', 'stroke-width': 3}, g);
  
  
  [oy, oy + PH].forEach(function (yy) {
    const bar = make('line', {x1: ox - 2, x2: ox + PW + 2, y1: yy, y2: yy, stroke: '#000', 'stroke-width': 4}, g);
    
    
  });

  // longitude ticks
  for (let lon = LON0; lon <= LON1; lon += 10) {
    const major = lonMajor.indexOf(lon) >= 0;
    const len = major ? 11 : 5;
    const w = major ? 3 : 2;
    [[oy, oy - len], [oy + PH, oy + PH + len]].forEach(function (t) {
      const tick = make('line', {x1: axisX(ox, lon), x2: axisX(ox, lon), y1: t[0], y2: t[1], stroke: '#000', 'stroke-width': w}, g);
      
      
    });
  }
  // latitude ticks
  for (let lat = LAT0; lat <= LAT1; lat += 5) {
    const major = latMajor.indexOf(lat) >= 0;
    const len = major ? 10 : 5;
    const w = major ? 4 : 2;
    [[ox, ox - len], [ox + PW, ox + PW + len]].forEach(function (t) {
      const tick = make('line', {x1: t[0], x2: t[1], y1: axisY(oy, lat), y2: axisY(oy, lat), stroke: '#000', 'stroke-width': w}, g);
      
      
    });
  }

  // captions
  const nameText = make('text', {x: ox - 1, y: oy - 14, 'font-size': 33.5}, g);
  nameText.textContent = panelNames[p.row];
  
  
  const unitText = make('text', {x: ox + PW, y: oy - 14, 'font-size': 33.5, 'text-anchor': 'end'}, g);
  unitText.textContent = '°C';
  
  

  const box = make('rect', {x: ox + 6, y: oy + 5, width: 43, height: 46, fill: '#fff', stroke: '#000', 'stroke-width': 2}, g);
  
  
  const letter = make('text', {x: ox + 27.5, y: oy + 39, 'font-size': 36, 'text-anchor': 'middle'}, g);
  letter.textContent = p.tag;
  
  

  if (p.col === 0) {
    latMajor.forEach(function (lat, i) {
      const t = make('text', {x: ox - 26, y: axisY(oy, lat) + 10, 'font-size': 27, 'text-anchor': 'end'}, g);
      t.textContent = latLabels[i];
      
      
    });
  }
  if (p.row === 3) {
    lonMajor.forEach(function (lon, i) {
      const t = make('text', {x: axisX(ox, lon), y: oy + PH + 48, 'font-size': 26, 'text-anchor': 'middle'}, g);
      t.textContent = lonLabels[i];
      
      
    });
  }
  if (p.tag === 'e') {
    const noteBox = make('rect', {x: 1367, y: 209, width: 388, height: 32, fill: '#fff', stroke: '#000', 'stroke-width': 2}, g);
    
    
    const note = make('text', {x: 1561, y: 233, 'font-size': 25, 'text-anchor': 'middle'}, g);
    note.textContent = 'CONSTANT FIELD - VALUE IS .0';
    
    
  }
});

// ---------- legends ----------
function drawLegend(name, left, boxW, colors, labels) {
  const g = make('g', {}, svg);
  
  
  colors.forEach(function (c, i) {
    const r = make('rect', {x: left + i * boxW, y: 1453, width: boxW, height: 23, fill: c, stroke: '#000', 'stroke-width': 1.6}, g);
    
    
  });
  labels.forEach(function (l, i) {
    if (!l) return;
    const t = make('text', {x: left + (i + 1) * boxW, y: 1502, 'font-size': 26, 'text-anchor': 'middle'}, g);
    t.textContent = l;
    
    
  });
}
drawLegend('sst-colorbar', 208.4, 56.4, sstColors, sstLabels);
drawLegend('difference-colorbar', 1222.7, 48.3, diffColors, diffLabels);
</script>
</body>
</html>
